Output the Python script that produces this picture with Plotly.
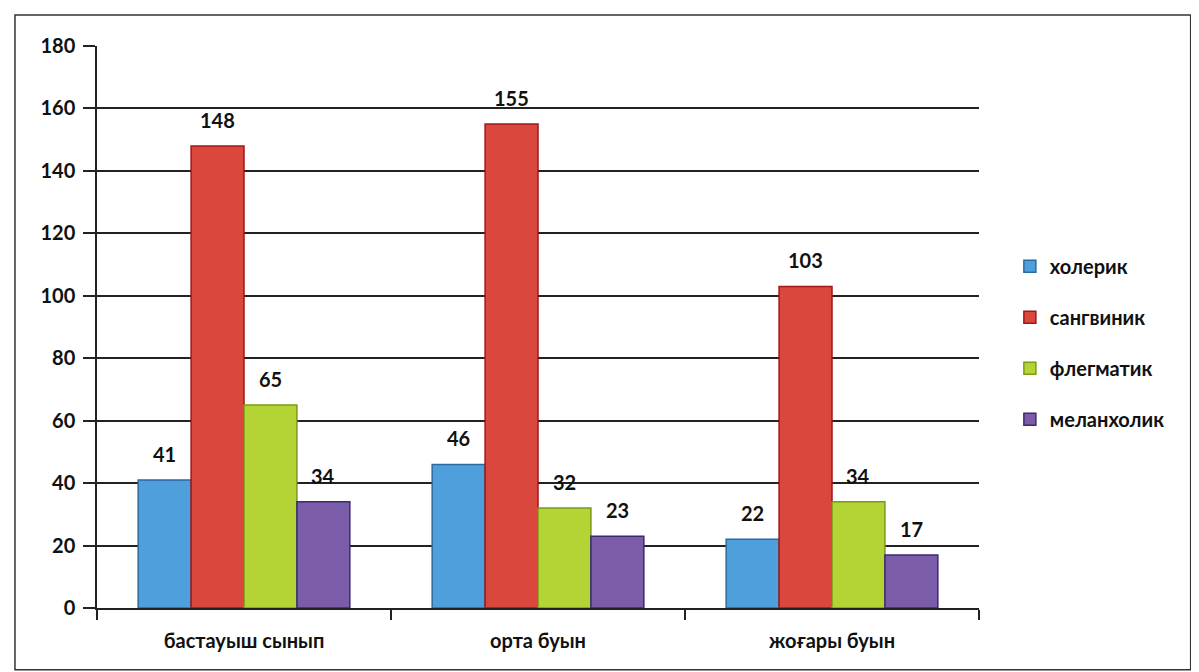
import plotly.graph_objects as go

categories = ["бастауыш сынып", "орта буын", "жоғары буын"]
series_names = ["холерик", "сангвиник", "флегматик", "меланхолик"]
holerik = [41, 46, 22]
sangvinik = [148, 155, 103]
flegmatik = [65, 32, 34]
melanholik = [34, 23, 17]
y_ticks = [0, 20, 40, 60, 80, 100, 120, 140, 160, 180]

values = [holerik, sangvinik, flegmatik, melanholik]
fills = ["#4e9fdc", "#d9473d", "#b4d334", "#7b5ca9"]
edges = ["#2a6aa0", "#a01818", "#7c9a18", "#3a2a70"]

FONT = "Lato"
BARGAP = 0.28
fig = go.Figure()
for k, (name, vals, fc, ec) in enumerate(zip(series_names, values, fills, edges)):
    fig.add_trace(go.Bar(
        name=name, x=categories, y=vals, legendgroup=name,
        marker=dict(color=fc, line=dict(color=ec, width=1.5)),
    ))

# value labels above bars
n = len(values)
w = (1 - BARGAP) / n
annotations = []
for k, vals in enumerate(values):
    off = -(1 - BARGAP) / 2 + w * (k + 0.5)
    for i, v in enumerate(vals):
        annotations.append(dict(
            x=i + off, y=v, xref="x", yref="y", text=f"<b>{v}</b>",
            showarrow=False, yanchor="bottom", yshift=12,
            font=dict(family=FONT, size=20, color="#111")))

fig.update_layout(
    width=1199, height=672,
    barmode="group", bargap=BARGAP, bargroupgap=0,
    paper_bgcolor="white", plot_bgcolor="white",
    margin=dict(l=89, r=228, t=38, b=72),
    font=dict(family=FONT, size=20, color="#111", weight="bold"),
    annotations=annotations,
    legend=dict(x=1.035, y=0.643, xanchor="left", yanchor="top",
                font=dict(family=FONT, size=20, color="#111", weight="bold"),
                traceorder="grouped", tracegroupgap=22, itemwidth=30,
                bgcolor="rgba(0,0,0,0)"),
    shapes=[dict(type="rect", xref="paper", yref="paper",
                 x0=-0.093, x1=1.24, y0=-0.11, y1=1.055,
                 line=dict(color="#333", width=1.5))],
)
fig.update_yaxes(range=[0, 180], tickvals=y_ticks, showgrid=True,
                 gridcolor="#222", gridwidth=1.5, showline=True,
                 linecolor="#222", linewidth=1.5, ticks="outside",
                 ticklen=12, tickcolor="#222", tickwidth=1.5,
                 ticklabelstandoff=4,
                 tickfont=dict(family=FONT, size=20, color="#111", weight="bold"),
                 zeroline=False)
fig.update_xaxes(showline=True, linecolor="#222", linewidth=1.5,
                 ticks="outside", tickson="boundaries", ticklen=10,
                 tickcolor="#222", tickwidth=1.5, ticklabelstandoff=14,
                 tickfont=dict(family=FONT, size=20, color="#111", weight="bold"))

fig.write_html("out.html")
